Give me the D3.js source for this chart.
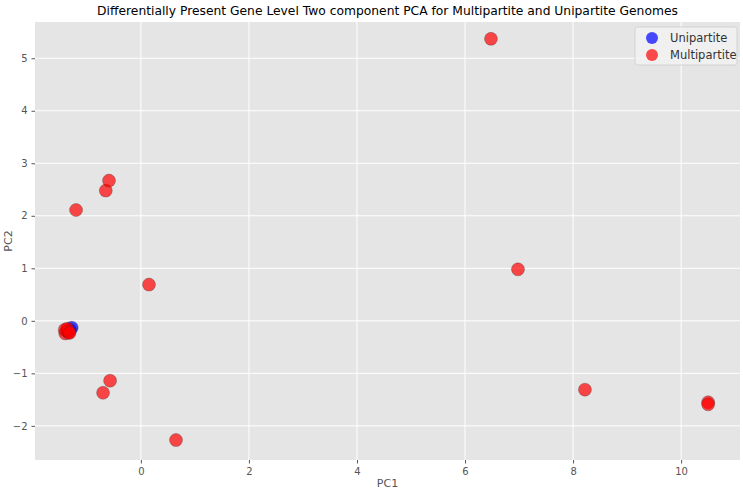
<!DOCTYPE html>
<html>
<head>
<meta charset="utf-8">
<script src="https://cdn.jsdelivr.net/npm/d3@7"></script>
<style>
  body { margin: 0; background: #fff; }
  text { font-family: "DejaVu Sans", sans-serif; }
</style>
</head>
<body>
<div id="chart"></div>
<script>
// Unipartite genomes (PC1, PC2)
const uniPC1 = [-1.28, -1.31, -1.35];
const uniPC2 = [-0.13, -0.17, -0.21];

// Multipartite genomes (PC1, PC2)
const multiPC1 = [-1.40, -1.37, -1.33, -1.41, -1.36, -1.32, -1.20, -0.65, -0.59, 0.15, -0.57, -0.70, 0.65, 6.48, 6.98, 8.22, 10.50, 10.50];
const multiPC2 = [-0.24, -0.19, -0.22, -0.17, -0.15, -0.23, 2.11, 2.48, 2.67, 0.69, -1.14, -1.37, -2.27, 5.37, 0.98, -1.31, -1.55, -1.59];

const xTicks = [0, 2, 4, 6, 8, 10];
const yTicks = [-2, -1, 0, 1, 2, 3, 4, 5];

const width = 743;
const height = 491;
const margin = { top: 22, right: 3, bottom: 31, left: 35 };

const svg = d3.select('#chart')
    .append('svg')
    .attr('width', width)
    .attr('height', height);

const x = d3.scaleLinear().domain([-1.96, 11.09]).range([margin.left, width - margin.right]);
const y = d3.scaleLinear().domain([-2.65, 5.69]).range([height - margin.bottom, margin.top]);

// panel background
svg.append('rect')
    .attr('x', margin.left)
    .attr('y', margin.top)
    .attr('width', width - margin.left - margin.right)
    .attr('height', height - margin.top - margin.bottom)
    .attr('fill', '#e5e5e5');

// grid lines
svg.append('g').selectAll('line')
    .data(xTicks)
    .join('line')
    .attr('x1', d => x(d)).attr('x2', d => x(d))
    .attr('y1', margin.top).attr('y2', height - margin.bottom)
    .attr('stroke', '#fff').attr('stroke-width', 1);

svg.append('g').selectAll('line')
    .data(yTicks)
    .join('line')
    .attr('y1', d => y(d)).attr('y2', d => y(d))
    .attr('x1', margin.left).attr('x2', width - margin.right)
    .attr('stroke', '#fff').attr('stroke-width', 1);

// axes
const xAxis = svg.append('g')
    .attr('transform', `translate(0,${height - margin.bottom})`)
    .call(d3.axisBottom(x).tickValues(xTicks).tickSize(3.5).tickPadding(4).tickFormat(d3.format('d')));
const yAxis = svg.append('g')
    .attr('transform', `translate(${margin.left},0)`)
    .call(d3.axisLeft(y).tickValues(yTicks).tickSize(3.5).tickPadding(4)
        .tickFormat(d => d < 0 ? '\u2212' + Math.abs(d) : d));

[xAxis, yAxis].forEach(a => {
    a.select('.domain').remove();
    a.selectAll('.tick line').attr('stroke', '#555');
    a.selectAll('.tick text')
        .attr('fill', '#555')
        .style('font-family', '"DejaVu Sans", sans-serif')
        .style('font-size', '10px');
});

// points
const uniData = uniPC1.map((v, i) => ({ pc1: v, pc2: uniPC2[i] }));
const multiData = multiPC1.map((v, i) => ({ pc1: v, pc2: multiPC2[i] }));

svg.append('g').selectAll('circle')
    .data(uniData)
    .join('circle')
    .attr('cx', d => x(d.pc1))
    .attr('cy', d => y(d.pc2))
    .attr('r', 6.5)
    .attr('fill', 'blue')
    .attr('fill-opacity', 0.7)
    .attr('stroke', '#333')
    .attr('stroke-opacity', 0.5)
    .attr('stroke-width', 0.6);

svg.append('g').selectAll('circle')
    .data(multiData)
    .join('circle')
    .attr('cx', d => x(d.pc1))
    .attr('cy', d => y(d.pc2))
    .attr('r', 6.5)
    .attr('fill', 'red')
    .attr('fill-opacity', 0.7)
    .attr('stroke', '#333')
    .attr('stroke-opacity', 0.5)
    .attr('stroke-width', 0.6);

// title and labels
svg.append('text')
    .attr('x', (margin.left + width - margin.right) / 2)
    .attr('y', 15)
    .attr('text-anchor', 'middle')
    .style('font-size', '12.3px')
    .attr('fill', '#000')
    .text('Differentially Present Gene Level Two component PCA for Multipartite and Unipartite Genomes');

svg.append('text')
    .attr('x', (margin.left + width - margin.right) / 2)
    .attr('y', height - 4)
    .attr('text-anchor', 'middle')
    .style('font-size', '11px')
    .attr('fill', '#555')
    .text('PC1');

svg.append('text')
    .attr('transform', `translate(12,${(margin.top + height - margin.bottom) / 2}) rotate(-90)`)
    .attr('text-anchor', 'middle')
    .style('font-size', '11px')
    .attr('fill', '#555')
    .text('PC2');

// legend
const legendItems = [
    { label: 'Unipartite', color: 'blue' },
    { label: 'Multipartite', color: 'red' }
];
const lg = svg.append('g').attr('transform', `translate(${width - margin.right - 105},${margin.top + 5})`);
lg.append('rect')
    .attr('width', 102).attr('height', 38)
    .attr('rx', 2.5)
    .attr('fill', '#f2f2f2')
    .attr('fill-opacity', 0.8)
    .attr('stroke', '#ccc')
    .attr('stroke-width', 0.8);
lg.selectAll('circle')
    .data(legendItems)
    .join('circle')
    .attr('cx', 17)
    .attr('cy', (d, i) => 11 + i * 17)
    .attr('r', 6)
    .attr('fill', d => d.color)
    .attr('fill-opacity', 0.7);
lg.selectAll('text')
    .data(legendItems)
    .join('text')
    .attr('x', 35)
    .attr('y', (d, i) => 15 + i * 17)
    .style('font-size', '11.5px')
    .attr('fill', '#333')
    .text(d => d.label);
</script>
</body>
</html>
